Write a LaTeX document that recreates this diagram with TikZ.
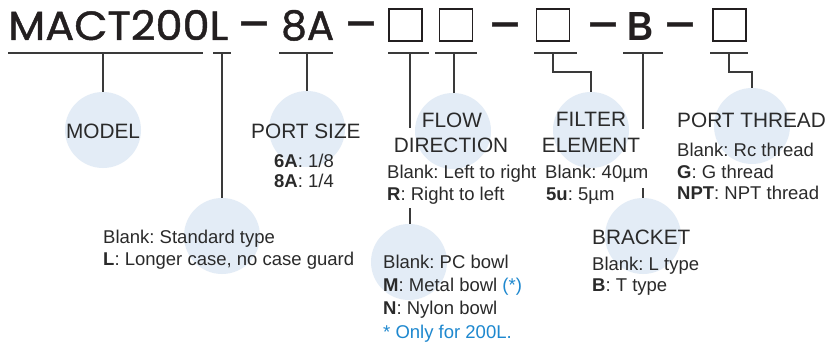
\documentclass[tikz,border=0pt]{standalone}
\usepackage{fontspec}
\usepackage{graphicx}
\setmainfont{Liberation Sans}
\newfontfamily\hdfont[FakeBold=1.1]{Poppins}
\usetikzlibrary{calc}
\definecolor{ink}{HTML}{231F20}
\definecolor{txt}{HTML}{2A2A2A}
\definecolor{bub}{HTML}{E3ECF6}
\definecolor{blu}{HTML}{1E88CF}
\definecolor{lnc}{HTML}{3A3A3A}
\frenchspacing
\begin{document}
\begin{tikzpicture}[x=1pt,y=-1pt,
 bubble/.style={circle, fill=bub, minimum size=76pt, inner sep=0pt, draw=none},
 ln/.style={draw=lnc, line width=1.1pt},
 cbox/.style={draw=ink, line width=1.9pt, minimum width=33pt, minimum height=32pt, inner sep=0pt},
 codetxt/.style={text=ink, inner sep=0pt, anchor=base west},
 dashtxt/.style={text=ink, inner sep=0pt, anchor=base, font=\hdfont\fontsize{48}{48}\selectfont},
 hd/.style={font=\fontsize{20.8}{22}\selectfont, text=txt, inner sep=0pt},
 bd/.style={font=\fontsize{18.5}{20}\selectfont, text=txt, inner sep=0pt, anchor=base west},
]
\useasboundingbox (0,0) rectangle (828,345);
\fill[white] (0,0) rectangle (828,345);

% bubbles
\node[bubble] (cModel) at (103,130) {};
\node[bubble] (cPort) at (307,129) {};
\node[bubble] (cL) at (222,236) {};
\node[bubble] (cFlow) at (453,131) {};
\node[bubble] (cBowl) at (409,262) {};
\node[bubble] (cFil) at (591,130) {};
\node[bubble] (cBr) at (643,236) {};
\node[bubble] (cThr) at (752,126) {};

% model code
\node[codetxt] (code) at (8,40) {\resizebox{220pt}{30pt}{\hdfont MACT200L}};
\node[dashtxt] (d1) at (254,41) {–};
\node[codetxt] (size) at (281,40) {\resizebox{53pt}{30pt}{\hdfont 8A}};
\node[dashtxt] (d2) at (361,41) {–};
\node[cbox] (b1) at (405.5,25) {};
\node[cbox] (b2) at (456,25) {};
\node[dashtxt] (d3) at (505,42) {–};
\node[cbox] (b3) at (553,25) {};
\node[dashtxt] (d4) at (603,42) {–};
\node[codetxt] (bb) at (627,41) {\resizebox{26pt}{28pt}{\bfseries B}};
\node[dashtxt] (d5) at (680,42) {–};
\node[cbox] (b4) at (729.5,25) {};

% underlines
\draw[ln] (8,53) -- (203,53);
\draw[ln] (213,53) -- (231,53);
\draw[ln] (279,53) -- (333,53);
\draw[ln] (388,53) -- (429,53);
\draw[ln] (435,53) -- (477,53);
\draw[ln] (534,53) -- (577,53);
\draw[ln] (623,53) -- (663,53);
\draw[ln] (710,53) -- (748,53);

% connectors
\coordinate (uM) at (103,53);
\coordinate (uL) at (222,53);
\coordinate (uP) at (307,53);
\coordinate (uF1) at (410,53);
\coordinate (fEnd) at (410,128);
\coordinate (fStart) at (410,208);
\coordinate (uF2) at (454,53);
\coordinate (uE) at (553,53);
\coordinate (uB) at (643,53);
\coordinate (bEnd) at (643,129);
\coordinate (bStart) at (643,188);
\coordinate (uT) at (729,53);
\draw[ln] (uM) -- (cModel.north);
\draw[ln] (uL) -- (cL.north);
\draw[ln] (uP) -- (cPort.north);
\draw[ln] (uF1) -- (fEnd);
\draw[ln] (fStart) -- (fStart |- cBowl.north);
\draw[ln] (uF2) -- (uF2 |- cFlow.north);
\draw[ln] (uE) -- ++(0,19) -| (cFil.north);
\draw[ln] (uB) -- (bEnd);
\draw[ln] (bStart) -- (cBr.north);
\draw[ln] (uT) -- ++(0,19) -| (cThr.north);

% texts
\node[hd, anchor=base] (tModel) at (103,138) {MODEL};
\node[hd, anchor=base west] (tPort) at (251,138) {PORT SIZE};
\node[bd] (p6) at (274,167) {\textbf{6A}: 1/8};
\node[bd] (p8) at (274,187) {\textbf{8A}: 1/4};
\node[hd, anchor=base] (tFlow1) at (452,128) {FLOW};
\node[hd, anchor=base] (tFlow2) at (451,153) {DIRECTION};
\node[bd] (f1) at (387,178) {Blank: Left to right};
\node[bd] (f2) at (387,200) {\textbf{R}: Right to left};
\node[hd, anchor=base] (tFil1) at (591,127) {FILTER};
\node[hd, anchor=base] (tFil2) at (591,152) {ELEMENT};
\node[bd] (e1) at (545,178) {Blank: 40µm};
\node[bd] (e2) at (546,200) {\textbf{5u}: 5µm};
\node[hd, anchor=base west] (tThr) at (677,128) {PORT THREAD};
\node[bd] (r1) at (677,156) {Blank: Rc thread};
\node[bd] (r2) at (677,178) {\textbf{G}: G thread};
\node[bd] (r3) at (677,199) {\textbf{NPT}: NPT thread};
\node[hd, anchor=base west] (tBr) at (592,244) {BRACKET};
\node[bd] (k1) at (592,270) {Blank: L type};
\node[bd] (k2) at (592,291) {\textbf{B}: T type};
\node[bd] (s1) at (103,243) {Blank: Standard type};
\node[bd] (s2) at (103,265) {\textbf{L}: Longer case, no case guard};
\node[bd] (w1) at (383,268) {Blank: PC bowl};
\node[bd] (w2) at (383,291) {\textbf{M}: Metal bowl \textcolor{blu}{(*)}};
\node[bd] (w3) at (383,314) {\textbf{N}: Nylon bowl};
\node[bd] (w4) at (383,338) {\textcolor{blu}{* Only for 200L.}};
\end{tikzpicture}
\end{document}
